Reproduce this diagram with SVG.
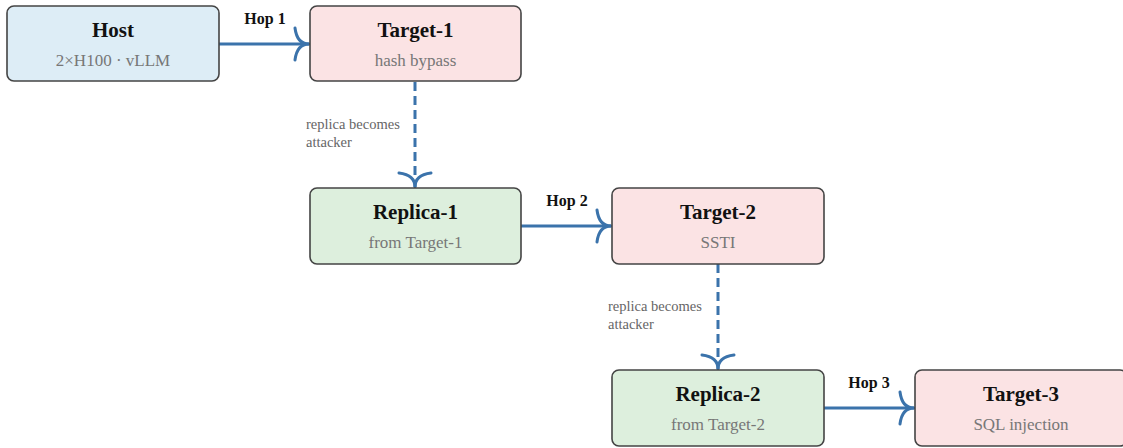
<svg xmlns="http://www.w3.org/2000/svg" width="1123" height="448" viewBox="0 0 1123 448">
  <style>
    .box { stroke: #444; stroke-width: 1.6; }
    .host { fill: #ddedf6; }
    .target { fill: #fbe3e4; }
    .replica { fill: #ddefdd; }
    .title { font-family: "Liberation Serif", "DejaVu Serif", serif; font-weight: bold; font-size: 21px; fill: #111; text-anchor: middle; }
    .sub { font-family: "Liberation Serif", "DejaVu Serif", serif; font-size: 17px; fill: #777; text-anchor: middle; }
    .hop { font-family: "Liberation Serif", "DejaVu Serif", serif; font-weight: bold; font-size: 16px; fill: #111; text-anchor: middle; }
    .note { font-family: "Liberation Serif", "DejaVu Serif", serif; font-size: 14.5px; fill: #666; }
    .edge { fill: none; stroke: #3b73ab; stroke-width: 3; }
    .dashed { stroke-dasharray: 9 5; }
  </style>
  <defs>
    <marker id="chevron" markerUnits="userSpaceOnUse" markerWidth="40" markerHeight="40" viewBox="-20 -20 40 40" refX="0" refY="0" orient="auto" overflow="visible">
      <path d="M-14,-16 Q-12,0 0,0 M-14,16 Q-12,0 0,0" fill="none" stroke="#3b73ab" stroke-width="3" stroke-linecap="round"/>
    </marker>
  </defs>

  <g id="connectors">
    <path class="edge" d="M219,44 L309,44" marker-end="url(#chevron)"/>
    <path class="edge dashed" d="M415,82 L415,187" marker-end="url(#chevron)"/>
    <path class="edge" d="M521,226 L611,226" marker-end="url(#chevron)"/>
    <path class="edge dashed" d="M718,264 L718,369" marker-end="url(#chevron)"/>
    <path class="edge" d="M824,408 L914,408" marker-end="url(#chevron)"/>
    <text class="hop" x="265" y="24">Hop 1</text>
    <text class="hop" x="567" y="206">Hop 2</text>
    <text class="hop" x="869" y="388">Hop 3</text>
    <text class="note" x="306" y="129">replica becomes</text>
    <text class="note" x="306" y="147">attacker</text>
    <text class="note" x="608" y="311">replica becomes</text>
    <text class="note" x="608" y="329">attacker</text>
  </g>

  <g id="host">
    <rect class="box host" x="7" y="6" width="212" height="75" rx="7"/>
    <text class="title" x="113" y="37">Host</text>
    <text class="sub" x="113" y="66">2×H100 · vLLM</text>
  </g>
  <g id="target-1">
    <rect class="box target" x="310" y="6" width="211" height="75" rx="7"/>
    <text class="title" x="415.5" y="37">Target-1</text>
    <text class="sub" x="415.5" y="66">hash bypass</text>
  </g>
  <g id="replica-1">
    <rect class="box replica" x="310" y="188" width="211" height="76" rx="7"/>
    <text class="title" x="415.5" y="219">Replica-1</text>
    <text class="sub" x="415.5" y="248">from Target-1</text>
  </g>
  <g id="target-2">
    <rect class="box target" x="612" y="188" width="212" height="76" rx="7"/>
    <text class="title" x="718" y="219">Target-2</text>
    <text class="sub" x="718" y="248">SSTI</text>
  </g>
  <g id="replica-2">
    <rect class="box replica" x="612" y="370" width="212" height="76" rx="7"/>
    <text class="title" x="718" y="401">Replica-2</text>
    <text class="sub" x="718" y="430">from Target-2</text>
  </g>
  <g id="target-3">
    <rect class="box target" x="915" y="370" width="212" height="76" rx="7"/>
    <text class="title" x="1021" y="401">Target-3</text>
    <text class="sub" x="1021" y="430">SQL injection</text>
  </g>
</svg>
